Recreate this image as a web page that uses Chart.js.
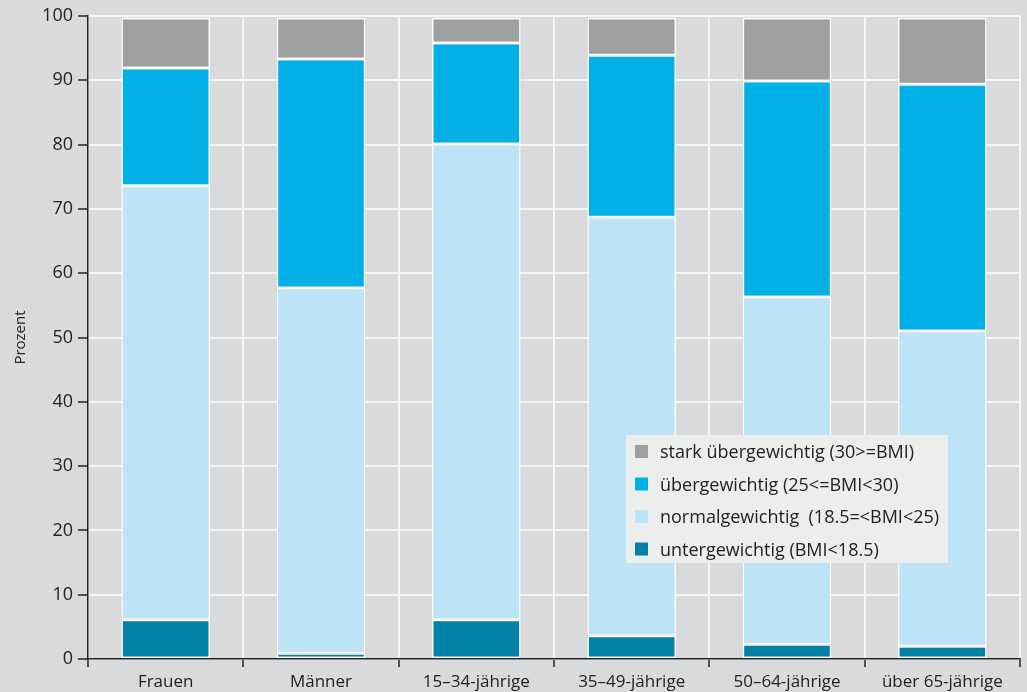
<!DOCTYPE html>
<html>
<head>
<meta charset="utf-8">
<script src="https://cdn.jsdelivr.net/npm/chart.js@4"></script>
<style>
  html, body { margin: 0; padding: 0; background: #d9dadc; }
  #wrap { width: 1027px; height: 692px; position: relative; }
</style>
</head>
<body>
<div id="wrap"><canvas id="bmiChart"></canvas></div>
<script>
// categories and values (Prozent)
const categories = ['Frauen', 'Männer', '15–34-jährige', '35–49-jährige', '50–64-jährige', 'über 65-jährige'];
const untergewichtig = [6.1, 0.9, 6.1, 3.6, 2.3, 2.0];
const normalgewichtig = [67.5, 56.8, 74.0, 65.1, 54.0, 49.0];
const uebergewichtig = [18.3, 35.6, 15.7, 25.2, 33.6, 38.4];
const starkUebergewichtig = [7.8, 6.4, 3.9, 5.8, 9.8, 10.3];
const seriesLabels = [
    'untergewichtig (BMI<18.5)',
    'normalgewichtig  (18.5=<BMI<25)',
    'übergewichtig (25<=BMI<30)',
    'stark übergewichtig (30>=BMI)'
];
const colors = ['#0081a6', '#bde4f6', '#00b0e6', '#9e9fa1'];

const FONT = '"Open Sans", sans-serif';

// paints the grey page background behind everything
const bgPlugin = {
    id: 'bg',
    beforeDraw(chart) {
        const ctx = chart.ctx;
        ctx.save();
        ctx.fillStyle = '#d9dadc';
        ctx.fillRect(0, 0, chart.width, chart.height);
        ctx.restore();
    }
};

// legend box drawn inside the plot area, bottom right
const boxLegend = {
    id: 'boxLegend',
    afterDraw(chart) {
        const ctx = chart.ctx;
        const x = 626, y = 435, w = 322, h = 128;
        ctx.save();
        ctx.fillStyle = '#eceded';
        ctx.fillRect(x, y, w, h);
        ctx.font = '18px ' + FONT;
        ctx.textBaseline = 'middle';
        const order = [3, 2, 1, 0];
        order.forEach((idx, i) => {
            const cy = y + 17 + i * 32.5;
            ctx.fillStyle = colors[idx];
            ctx.fillRect(x + 9, cy - 7, 13, 13);
            ctx.fillStyle = '#222';
            ctx.fillText(seriesLabels[idx], x + 34, cy + 1);
        });
        ctx.restore();
    }
};

function makeDataset(label, data, color) {
    return {
        label: label,
        data: data,
        backgroundColor: color,
        borderColor: '#ffffff',
        borderWidth: 1.5,
        borderSkipped: false,
        categoryPercentage: 1,
        barPercentage: 0.57
    };
}

new Chart(document.getElementById('bmiChart'), {
    type: 'bar',
    data: {
        labels: categories,
        datasets: [
            makeDataset(seriesLabels[0], untergewichtig, colors[0]),
            makeDataset(seriesLabels[1], normalgewichtig, colors[1]),
            makeDataset(seriesLabels[2], uebergewichtig, colors[2]),
            makeDataset(seriesLabels[3], starkUebergewichtig, colors[3])
        ]
    },
    options: {
        responsive: true,
        maintainAspectRatio: false,
        animation: false,
        layout: { padding: { top: 16, right: 7, left: 0, bottom: 0 } },
        plugins: {
            legend: { display: false },
            tooltip: { enabled: false }
        },
        scales: {
            x: {
                stacked: true,
                grid: {
                    color: '#f4f5f5',
                    lineWidth: 2,
                    offset: true,
                    tickColor: '#222',
                    tickLength: 8,
                    tickWidth: 1.5
                },
                border: { color: '#222', width: 1.5 },
                ticks: { color: '#222', font: { family: FONT, size: 17 }, padding: 5 },
                afterFit(scale) { scale.height = 33; }
            },
            y: {
                stacked: true,
                min: 0,
                max: 100,
                grid: {
                    color: '#f4f5f5',
                    lineWidth: 2,
                    tickColor: '#222',
                    tickLength: 10,
                    tickWidth: 1.5
                },
                border: { color: '#222', width: 1.5 },
                ticks: { stepSize: 10, color: '#222', font: { family: FONT, size: 18 }, padding: 5 },
                title: {
                    display: true,
                    text: 'Prozent',
                    color: '#222',
                    font: { family: FONT, size: 15 },
                    padding: { top: 12, bottom: 0 }
                },
                afterFit(scale) { scale.width = 88; }
            }
        }
    },
    plugins: [bgPlugin, boxLegend]
});
</script>
</body>
</html>
